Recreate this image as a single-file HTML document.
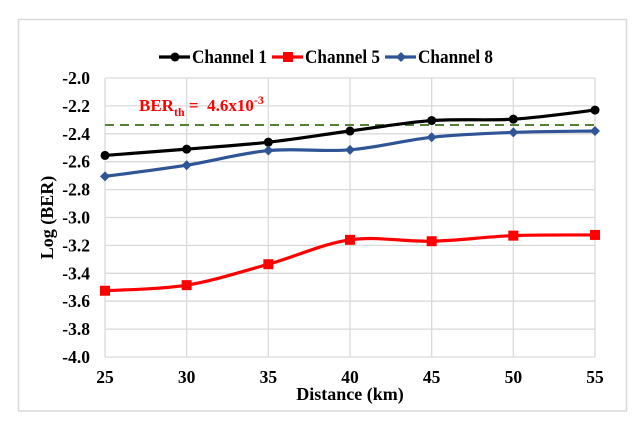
<!DOCTYPE html>
<html><head><meta charset="utf-8"><style>
html,body{margin:0;padding:0;background:#fff;}
svg text{font-family:"Liberation Serif",serif;font-weight:bold;}
</style></head><body>
<svg id="c" width="640" height="423" viewBox="0 0 640 423" xmlns="http://www.w3.org/2000/svg">
<rect x="18.5" y="19.5" width="608" height="391.5" fill="#fff" stroke="#d9d9d9" stroke-width="1.5"/>
<g id="grid"></g><g id="series"></g><g id="axes"></g>
</svg>
<script>
const xCats=[25,30,35,40,45,50,55];
const ch1=[-2.555,-2.51,-2.46,-2.38,-2.305,-2.295,-2.23];
const ch5=[-3.525,-3.485,-3.335,-3.16,-3.17,-3.13,-3.125];
const ch8=[-2.705,-2.625,-2.52,-2.515,-2.425,-2.39,-2.38];
const yTicks=[-2.0,-2.2,-2.4,-2.6,-2.8,-3.0,-3.2,-3.4,-3.6,-3.8,-4.0];
const berTh=-2.337;
const NS="http://www.w3.org/2000/svg";
const L=105,R=595,T=78,B=357;
const xs=v=>L+(v-25)/30*(R-L);
const ys=v=>T+(-2-v)/2*(B-T);
function mk(tag,attrs,parent,text){const e=document.createElementNS(NS,tag);for(const k in attrs)e.setAttribute(k,attrs[k]);if(text!==undefined)e.textContent=text;parent.appendChild(e);return e;}
const grid=document.getElementById('grid'),axes=document.getElementById('axes'),ser=document.getElementById('series');
yTicks.forEach(t=>{const g=mk('line',{x1:L,x2:R,y1:ys(t),y2:ys(t),stroke:'#d9d9d9','stroke-width':1.3},grid);


const tx=mk('text',{x:L-15,y:ys(t)+6,'text-anchor':'end','font-size':17.5},axes,t.toFixed(1));

});
xCats.forEach(c=>{const g=mk('line',{x1:xs(c),x2:xs(c),y1:T,y2:B,stroke:'#d9d9d9','stroke-width':1.3},grid);


const tx=mk('text',{x:xs(c),y:B+26,'text-anchor':'middle','font-size':17.5},axes,String(c));

});
const xt=mk('text',{x:(L+R)/2,y:B+43,'text-anchor':'middle','font-size':18},axes,'Distance (km)');


const yt=mk('text',{x:0,y:0,'text-anchor':'middle','font-size':18,transform:`translate(53,${(T+B)/2}) rotate(-90)`},axes,'Log (BER)');


const th=mk('line',{x1:L,x2:R,y1:ys(berTh),y2:ys(berTh),stroke:'#548235','stroke-width':2,'stroke-dasharray':'9,6'},ser);


const thl=mk('text',{x:139,y:111,fill:'#ff0000','font-size':17},ser);


thl.innerHTML='BER<tspan font-size="12" dy="5">th</tspan><tspan dy="-5" xml:space="preserve"> =  4.6x10</tspan><tspan font-size="12" dy="-7">-3</tspan>';
function path(vals){const p=vals.map((v,i)=>[xs(xCats[i]),ys(v)]);let d=`M${p[0][0]},${p[0][1]}`;
for(let i=0;i<p.length-1;i++){const p0=p[i-1]||p[i],p1=p[i],p2=p[i+1],p3=p[i+2]||p2;
d+=` C${p1[0]+(p2[0]-p0[0])/6},${p1[1]+(p2[1]-p0[1])/6} ${p2[0]-(p3[0]-p1[0])/6},${p2[1]-(p3[1]-p1[1])/6} ${p2[0]},${p2[1]}`;}return d;}
function marker(kind,x,y,col,parent){if(kind==='circle')return mk('circle',{cx:x,cy:y,r:4.5,fill:col},parent);
if(kind==='square')return mk('rect',{x:x-5,y:y-5,width:10,height:10,fill:col},parent);
return mk('path',{d:`M${x},${y-5}L${x+5},${y}L${x},${y+5}L${x-5},${y}Z`,fill:col},parent);}
const S=[['channel-1',ch1,'#000000','circle'],['channel-5',ch5,'#ff0000','square'],['channel-8',ch8,'#2f5597','diamond']];
S.forEach(([n,vals,col,k])=>{const g=mk('g',{},ser);


const l=mk('path',{d:path(vals),fill:'none',stroke:col,'stroke-width':3.2},g);


vals.forEach((v,i)=>{const m=marker(k,xs(xCats[i]),ys(v),col,g);

});});
const leg=mk('g',{},axes);


const lx=[159,272,385],lbl=['Channel 1','Channel 5','Channel 8'];
S.forEach(([n,vals,col,k],i)=>{const e=mk('g',{},leg);


mk('line',{x1:lx[i],x2:lx[i]+31,y1:57,y2:57,stroke:col,'stroke-width':3.2},e);
marker(k,lx[i]+16,57,col,e);
mk('text',{x:lx[i]+33,y:63,'font-size':18.5,textLength:75,lengthAdjust:'spacingAndGlyphs'},e,lbl[i]);});
</script>
</body></html>
